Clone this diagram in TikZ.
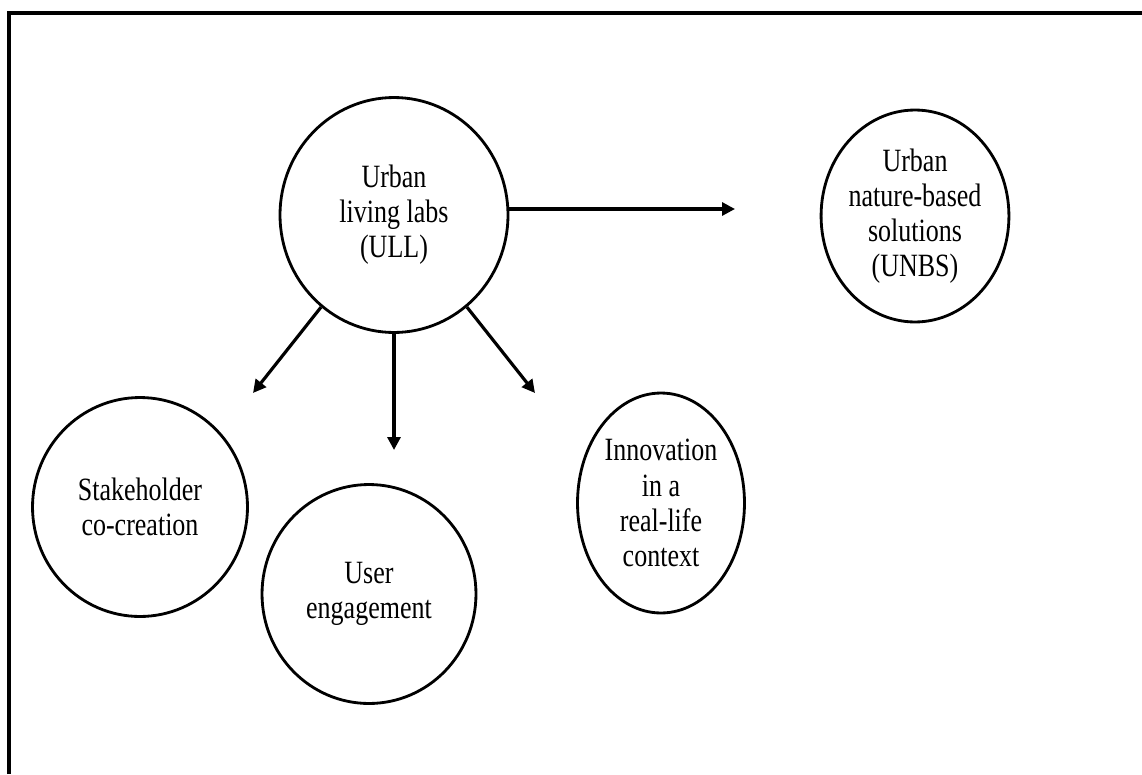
\documentclass[tikz,border=0pt]{standalone}
\usepackage{fontspec}
\setmainfont[FakeStretch=0.8]{Liberation Serif}
\usetikzlibrary{arrows.meta,positioning,shapes.geometric}

\begin{document}
\begin{tikzpicture}[x=0.02cm,y=-0.02cm,>={Triangle[length=0.26cm,width=0.26cm]},
  bubble/.style={draw,ellipse,line width=1.6pt,inner sep=0pt,align=center,font=\fontsize{18.5}{20}\selectfont},
  link/.style={->,line width=1.8pt}]
\useasboundingbox (0,0) rectangle (1142,774);
\draw[line width=2.8pt] (9,774) |- (1142,13);
\node[bubble,minimum width=4.56cm,minimum height=4.7cm] (ull) at (394,215) {Urban\\living labs\\(ULL)};
\node[bubble,minimum width=3.4cm,minimum height=4.24cm] (unbs) at (915,216) {Urban\\nature-based\\solutions\\(UNBS)};
\node[bubble,minimum width=4.3cm,minimum height=4.38cm] (stake) at (140,507) {Stakeholder\\co-creation};
\node[bubble,minimum width=4.28cm,minimum height=4.38cm] (user) at (369,594) {User\\engagement};
\node[bubble,minimum width=3.34cm,minimum height=4.4cm] (innov) at (661,503) {Innovation\\in a\\real-life\\context};
\coordinate (toUnbs) at (735,209);
\coordinate (toStake) at (253,393);
\coordinate (toUser) at (394,450);
\coordinate (toInnov) at (535,393);
\draw[link] (ull.east |- toUnbs) -- (toUnbs);
\draw[link] (ull) -- (toStake);
\draw[link] (ull) -- (toUser);
\draw[link] (ull) -- (toInnov);
\end{tikzpicture}
\end{document}
